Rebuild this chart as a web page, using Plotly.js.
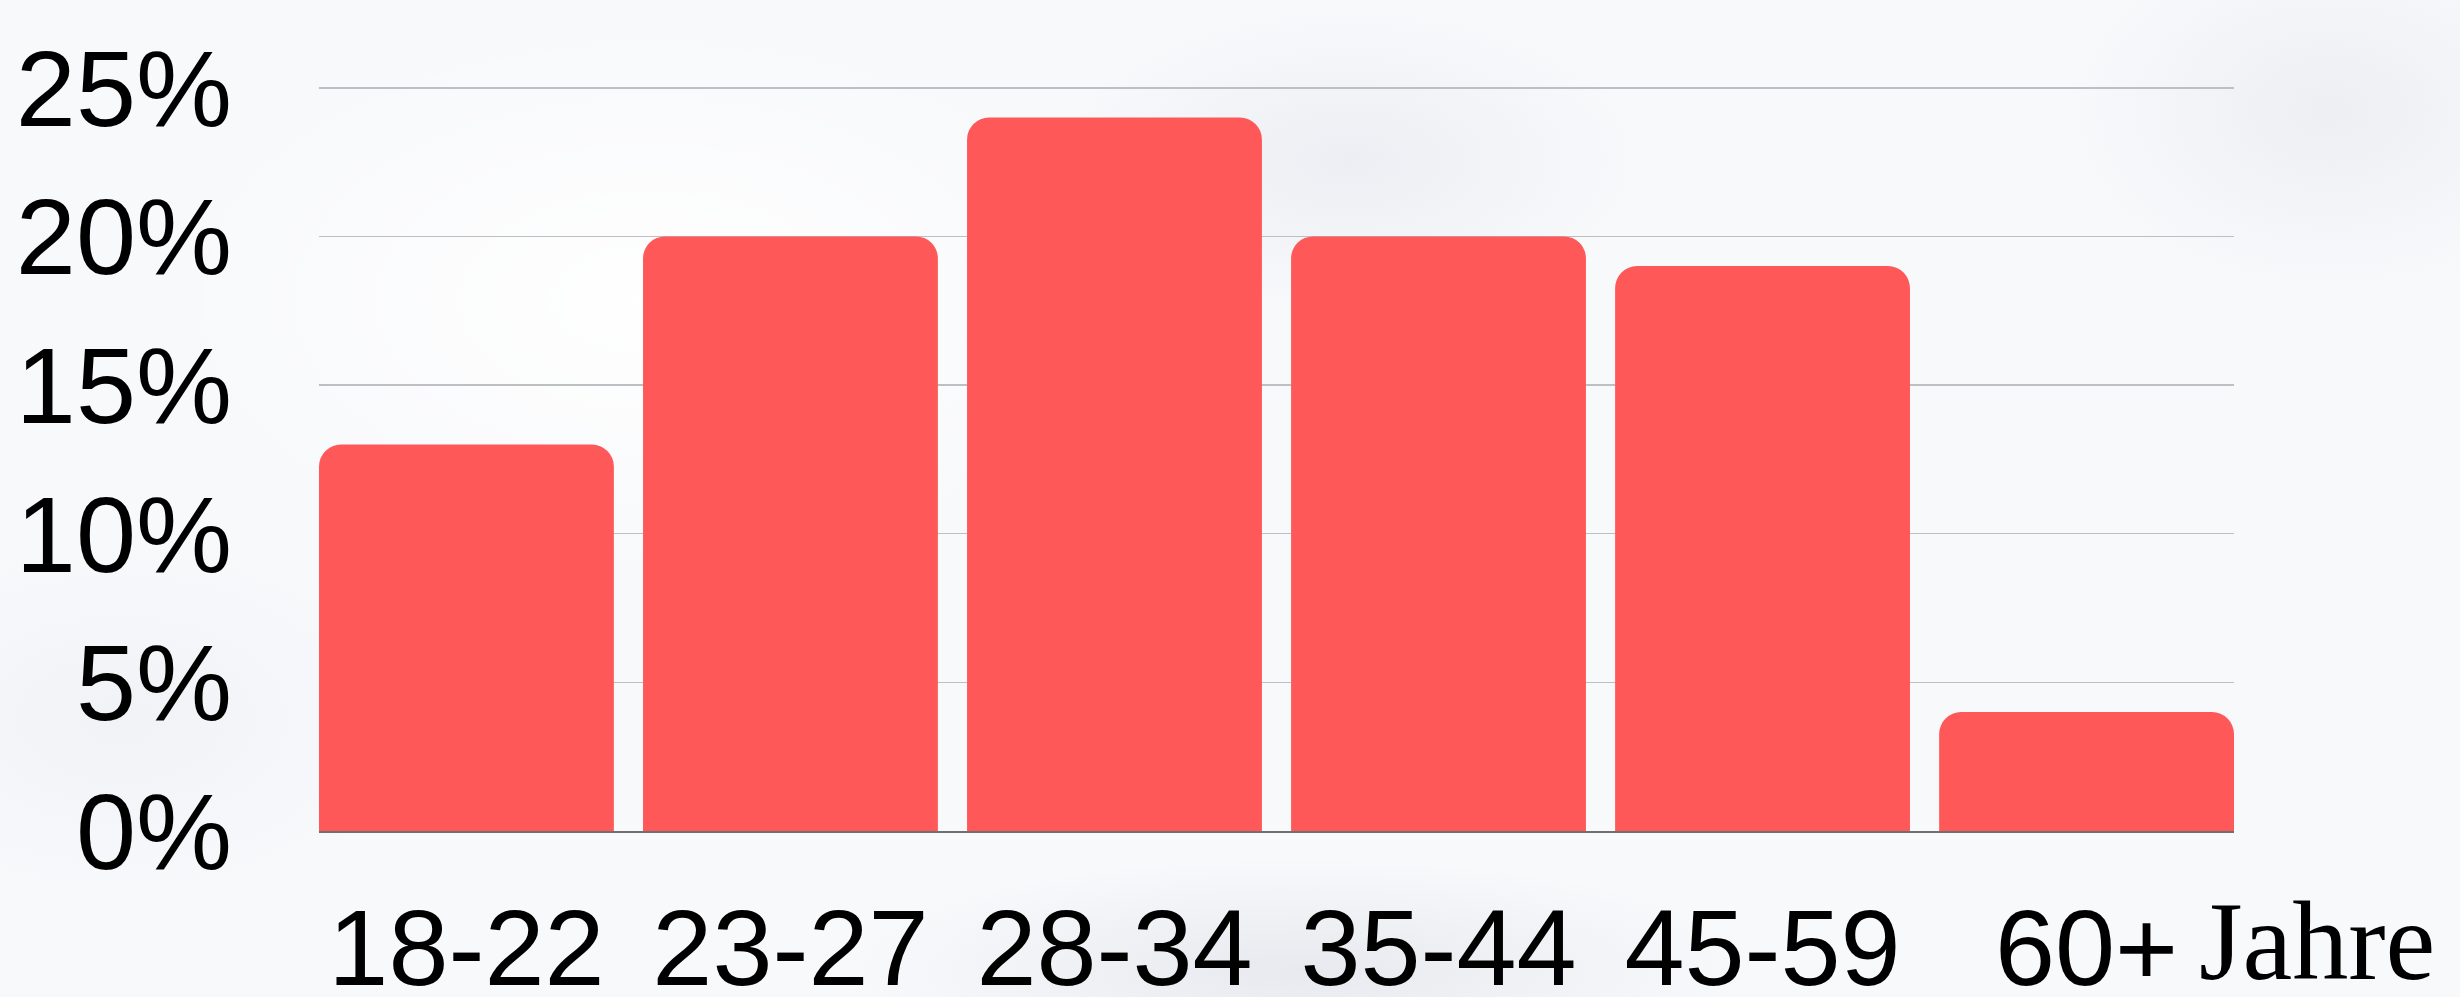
<!DOCTYPE html>
<html>
<head>
<meta charset="utf-8">
<script src="https://cdn.plot.ly/plotly-3.0.1.min.js"></script>
<style>
  html, body { margin: 0; padding: 0; width: 2460px; height: 997px; overflow: hidden; }
  body {
    background-color: #f8f9fb;
    background-image:
      radial-gradient(ellipse 420px 220px at 1350px 160px, rgba(222,225,234,0.45), rgba(255,255,255,0) 70%),
      radial-gradient(ellipse 650px 160px at 1300px 970px, rgba(210,214,224,0.45), rgba(255,255,255,0) 70%),
      radial-gradient(ellipse 380px 260px at 2330px 110px, rgba(226,228,235,0.5), rgba(255,255,255,0) 70%),
      radial-gradient(ellipse 420px 260px at 120px 720px, rgba(230,232,240,0.4), rgba(255,255,255,0) 70%),
      radial-gradient(ellipse 700px 400px at 650px 300px, rgba(255,255,255,0.95), rgba(255,255,255,0) 70%);
  }
  #chart { width: 2460px; height: 997px; }
</style>
</head>
<body>
<div id="chart"></div>
<script>
const categories = ["18-22", "23-27", "28-34", "35-44", "45-59", "60+"];
const tickLabels = ["18-22", "23-27", "28-34", "35-44", "45-59", "60+"];
const lastLabelSuffix = "Jahre";
const values = [13, 20, 24, 20, 19, 4];
const yTickValues = [0, 5, 10, 15, 20, 25];
const yTickLabels = ["0%", "5%", "10%", "15%", "20%", "25%"];

const fontFamily = "'Liberation Sans', Arial, sans-serif";
const fontSize = 108;

const trace = {
  type: "bar",
  x: categories,
  y: values,
  marker: { color: "#FF5858", line: { width: 0 } },
  hoverinfo: "skip"
};

const layout = {
  width: 2460,
  height: 997,
  margin: { l: 319, r: 226, t: 58, b: 166, pad: 0 },
  paper_bgcolor: "rgba(0,0,0,0)",
  plot_bgcolor: "rgba(0,0,0,0)",
  bargap: 0.09,
  barcornerradius: 22,
  showlegend: false,
  font: { family: fontFamily, color: "#000000", size: fontSize },
  xaxis: {
    type: "category",
    range: [-0.455, 5.455],
    tickmode: "array",
    tickvals: categories,
    ticktext: tickLabels,
    showgrid: false,
    showline: true,
    linecolor: "#707070",
    linewidth: 2,
    ticks: "",
    ticklabelstandoff: 22,
    tickfont: { family: fontFamily, size: fontSize, color: "#000000" },
    zeroline: false,
    fixedrange: true
  },
  yaxis: {
    range: [0, 26],
    tickmode: "array",
    tickvals: yTickValues,
    ticktext: yTickLabels,
    showgrid: true,
    gridcolor: "#BEBFC2",
    gridwidth: 1.6,
    zeroline: false,
    showline: false,
    ticks: "",
    ticklabelstandoff: 86,
    tickfont: { family: fontFamily, size: fontSize, color: "#000000" },
    fixedrange: true
  },
  annotations: [{
    x: categories[categories.length - 1],
    y: 0,
    xref: "x",
    yref: "paper",
    text: lastLabelSuffix,
    showarrow: false,
    xanchor: "left",
    yanchor: "top",
    xshift: 110,
    yshift: -46,
    font: { family: "'Liberation Serif', 'Times New Roman', serif", size: 112, color: "#000000" }
  }]
};

Plotly.newPlot("chart", [trace], layout, { displayModeBar: false, staticPlot: true });
</script>
</body>
</html>
